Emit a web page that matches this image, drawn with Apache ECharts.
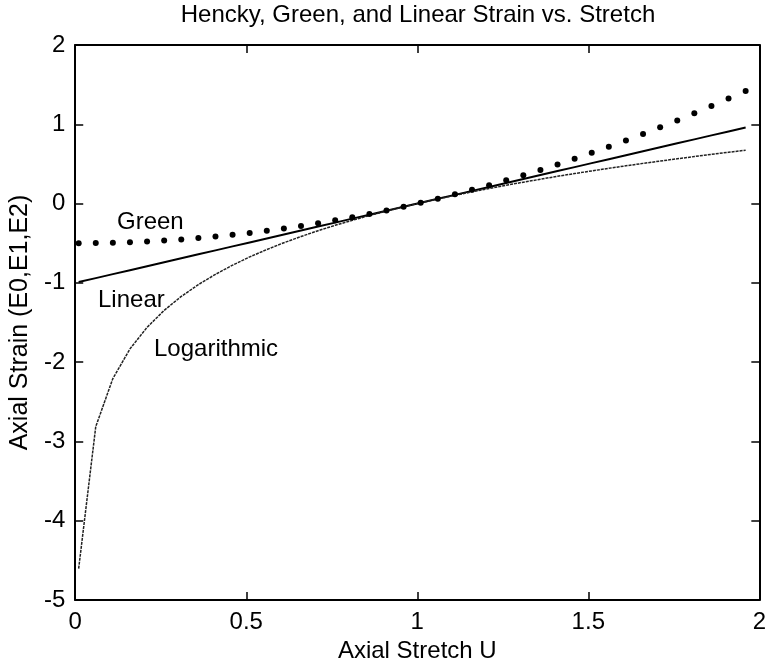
<!DOCTYPE html>
<html>
<head>
<meta charset="utf-8">
<script src="https://cdn.jsdelivr.net/npm/echarts@6/dist/echarts.min.js"></script>
<style>
  html, body { margin: 0; padding: 0; background: #fff; }
  #chart { width: 769px; height: 670px; }
</style>
</head>
<body>
<div id="chart"></div>
<script>
// stretch values U (step 0.05)
var stretch = [0.01, 0.06, 0.11, 0.16, 0.21, 0.26, 0.31, 0.36, 0.41, 0.46,
  0.51, 0.56, 0.61, 0.66, 0.71, 0.76, 0.81, 0.86, 0.91, 0.96,
  1.01, 1.06, 1.11, 1.16, 1.21, 1.26, 1.31, 1.36, 1.41, 1.46,
  1.51, 1.56, 1.61, 1.66, 1.71, 1.76, 1.81, 1.86, 1.91, 1.96];

var greenStrain = [-0.50, -0.498, -0.494, -0.487, -0.478, -0.466, -0.452, -0.435, -0.416, -0.394,
  -0.370, -0.343, -0.314, -0.282, -0.248, -0.211, -0.172, -0.130, -0.086, -0.039,
  0.010, 0.062, 0.116, 0.173, 0.232, 0.294, 0.358, 0.425, 0.494, 0.566,
  0.640, 0.717, 0.796, 0.878, 0.962, 1.049, 1.138, 1.230, 1.324, 1.421];

var linearStrain = [-0.99, -0.94, -0.89, -0.84, -0.79, -0.74, -0.69, -0.64, -0.59, -0.54,
  -0.49, -0.44, -0.39, -0.34, -0.29, -0.24, -0.19, -0.14, -0.09, -0.04,
  0.01, 0.06, 0.11, 0.16, 0.21, 0.26, 0.31, 0.36, 0.41, 0.46,
  0.51, 0.56, 0.61, 0.66, 0.71, 0.76, 0.81, 0.86, 0.91, 0.96];

var logStrain = [-4.605, -2.813, -2.207, -1.833, -1.561, -1.347, -1.171, -1.022, -0.892, -0.777,
  -0.673, -0.580, -0.494, -0.416, -0.342, -0.274, -0.211, -0.151, -0.094, -0.041,
  0.010, 0.058, 0.104, 0.148, 0.191, 0.231, 0.270, 0.307, 0.344, 0.378,
  0.412, 0.445, 0.476, 0.507, 0.536, 0.565, 0.593, 0.621, 0.647, 0.673];

var xTicks = [0, 0.5, 1, 1.5, 2];
var yTicks = [-5, -4, -3, -2, -1, 0, 1, 2];

function pairs(xs, ys) {
  return xs.map(function (x, i) { return [x, ys[i]]; });
}

var font = "'Liberation Sans', Arial, Helvetica, sans-serif";
var myChart = echarts.init(document.getElementById('chart'));

var frameLine = { lineStyle: { color: '#000', width: 2 }, onZero: false };
var inTick = { show: true, inside: true, length: 8, lineStyle: { color: '#000', width: 1.5 } };

myChart.setOption({
  animation: false,
  backgroundColor: '#fff',
  textStyle: { fontFamily: font, color: '#000' },
  grid: { left: 74, right: 7, top: 45, bottom: 70, containLabel: false },
  graphic: [
    { type: 'text', x: 418, y: 3, style: { text: 'Hencky, Green, and Linear Strain vs. Stretch', font: '24px ' + font, fill: '#000', align: 'center', verticalAlign: 'top' } },
    { type: 'text', left: 117, top: 210, style: { text: 'Green', font: '24px ' + font, fill: '#000' } },
    { type: 'text', left: 98, top: 288, style: { text: 'Linear', font: '24px ' + font, fill: '#000' } },
    { type: 'text', left: 154, top: 337, style: { text: 'Logarithmic', font: '24px ' + font, fill: '#000' } }
  ],
  xAxis: [
    {
      type: 'value', position: 'bottom',
      min: xTicks[0], max: xTicks[xTicks.length - 1], interval: 0.5,
      name: 'Axial Stretch U', nameLocation: 'middle', nameGap: 38,
      nameTextStyle: { fontSize: 24, color: '#000', fontFamily: font },
      axisLine: frameLine, axisTick: inTick,
      axisLabel: { fontSize: 24, color: '#000', margin: 10, fontFamily: font },
      splitLine: { show: false }
    },
    {
      type: 'value', position: 'top',
      min: xTicks[0], max: xTicks[xTicks.length - 1], interval: 0.5,
      axisLine: frameLine, axisTick: inTick,
      axisLabel: { show: false }, splitLine: { show: false }
    }
  ],
  yAxis: [
    {
      type: 'value', position: 'left',
      min: yTicks[0], max: yTicks[yTicks.length - 1], interval: 1,
      name: 'Axial Strain (E0,E1,E2)', nameLocation: 'middle', nameGap: 30,
      nameTextStyle: { fontSize: 25, color: '#000', fontFamily: font },
      axisLine: frameLine, axisTick: inTick,
      axisLabel: { fontSize: 24, color: '#000', margin: 10, fontFamily: font },
      splitLine: { show: false }
    },
    {
      type: 'value', position: 'right',
      min: yTicks[0], max: yTicks[yTicks.length - 1], interval: 1,
      axisLine: frameLine, axisTick: inTick,
      axisLabel: { show: false }, splitLine: { show: false }
    }
  ],
  series: [
    {
      name: 'Green', type: 'line', data: pairs(stretch, greenStrain),
      symbol: 'circle', symbolSize: 6, showSymbol: true,
      itemStyle: { color: '#000' },
      lineStyle: { width: 0, opacity: 0 }
    },
    {
      name: 'Linear', type: 'line', data: pairs(stretch, linearStrain),
      symbol: 'none', lineStyle: { color: '#000', width: 2 }
    },
    {
      name: 'Logarithmic', type: 'line', data: pairs(stretch, logStrain),
      symbol: 'none', lineStyle: { color: '#222', width: 1.5, type: [3, 1] }
    }
  ]
});

window.addEventListener('resize', function () {
  myChart.resize();
});
</script>
</body>
</html>
